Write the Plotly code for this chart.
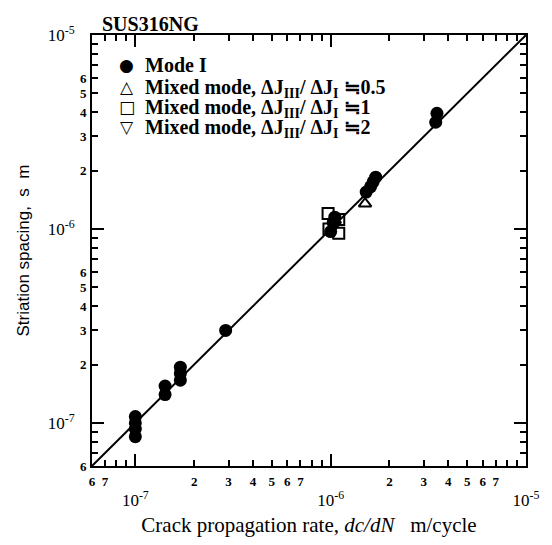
import numpy as np
import plotly.graph_objects as go

# ---------------- data ----------------
mode1_x = [1.0e-7, 1.0e-7, 1.0e-7, 1.0e-7, 1.42e-7, 1.42e-7, 1.7e-7, 1.7e-7, 1.7e-7,
           2.9e-7, 1.0e-6, 1.03e-6, 1.05e-6, 1.52e-6, 1.6e-6, 1.65e-6, 1.7e-6, 3.45e-6, 3.5e-6]
mode1_y = [0.85e-7, 0.93e-7, 1.0e-7, 1.08e-7, 1.4e-7, 1.55e-7, 1.66e-7, 1.8e-7, 1.94e-7,
           3.0e-7, 0.97e-6, 1.08e-6, 1.15e-6, 1.55e-6, 1.65e-6, 1.75e-6, 1.85e-6, 3.55e-6, 3.95e-6]
mix05_x = [1.5e-6]
mix05_y = [1.35e-6]
mix1_x = [0.97e-6, 1.1e-6, 1.1e-6, 0.98e-6]
mix1_y = [1.2e-6, 1.12e-6, 0.95e-6, 1.0e-6]
mix2_x = [1.05e-6]
mix2_y = [1.05e-6]
fit_x = [6e-8, 1e-5]
fit_y = [6e-8, 1e-5]

axis_min = 6e-8
axis_max = 1e-5
x_digit_vals = [6e-8, 7e-8, 8e-8, 9e-8] + [m * d for d in (1e-7, 1e-6) for m in range(2, 10)]
x_digit_text = ["6", "7", "", ""] + ["2", "3", "4", "5", "6", "7", "", ""] * 2
y_digit_vals = x_digit_vals
y_digit_text = ["6", "", "", ""] + ["2", "3", "4", "5", "6", "", "", ""] * 2
decade_vals = [1e-7, 1e-6, 1e-5]
decade_text = ["10<sup>-7</sup>", "10<sup>-6</sup>", "10<sup>-5</sup>"]

legend_names = ["Mode I",
                "Mixed mode, ΔJ<sub>III</sub>/ ΔJ<sub>I</sub> ≒0.5",
                "Mixed mode, ΔJ<sub>III</sub>/ ΔJ<sub>I</sub> ≒1",
                "Mixed mode, ΔJ<sub>III</sub>/ ΔJ<sub>I</sub> ≒2"]
legend_glyphs = ["●", "△", "□", "▽"]

SERIF = "Liberation Serif"
SANS = "Liberation Sans"

fig = go.Figure()
fig.add_trace(go.Scatter(x=fit_x, y=fit_y, mode="lines", line=dict(color="black", width=2),
                         showlegend=False, hoverinfo="skip"))
fig.add_trace(go.Scatter(x=mix2_x, y=mix2_y, mode="markers", name=legend_names[3],
                         marker=dict(symbol="triangle-down-open", size=11, color="black", line=dict(width=2)),
                         showlegend=False))
fig.add_trace(go.Scatter(x=mix1_x, y=mix1_y, mode="markers", name=legend_names[2],
                         marker=dict(symbol="square-open", size=11, color="black", line=dict(width=2)),
                         showlegend=False))
fig.add_trace(go.Scatter(x=mix05_x, y=mix05_y, mode="markers", name=legend_names[1],
                         marker=dict(symbol="triangle-up-open", size=11, color="black", line=dict(width=2)),
                         showlegend=False))
fig.add_trace(go.Scatter(x=mode1_x, y=mode1_y, mode="markers", name=legend_names[0],
                         marker=dict(symbol="circle", size=13, color="black"), showlegend=False))

# dummy trace for decade axes
fig.add_trace(go.Scatter(x=[None], y=[None], xaxis="x2", yaxis="y2", showlegend=False))

rng = [np.log10(axis_min), np.log10(axis_max)]
common = dict(type="log", range=rng, showgrid=False, zeroline=False, linecolor="black",
              linewidth=2, ticks="inside", tickcolor="black", tickwidth=2)
digit_font = dict(family=SERIF, size=13, color="black", weight="bold")

fig.update_layout(
    width=552, height=545,
    margin=dict(l=92, r=25, t=35, b=77),
    paper_bgcolor="white", plot_bgcolor="white",
    showlegend=False,
    xaxis=dict(**common, mirror="allticks", ticklen=6, tickvals=x_digit_vals, ticktext=x_digit_text,
               tickfont=digit_font, ticklabelstandoff=2,
               title=dict(text="Crack propagation rate, <i>dc/dN</i>   m/cycle",
                          font=dict(family=SERIF, size=21, color="black"), standoff=30)),
    yaxis=dict(**common, mirror="allticks", ticklen=6, tickvals=y_digit_vals, ticktext=y_digit_text,
               tickfont=digit_font, ticklabelstandoff=1,
               title=dict(text="Striation spacing,  s  m",
                          font=dict(family=SANS, size=17, color="black"), standoff=46)),
    xaxis2=dict(**common, overlaying="x", anchor="y", side="bottom", mirror="allticks", ticklen=12,
                tickvals=decade_vals, ticktext=decade_text, ticklabelstandoff=18,
                tickfont=dict(family=SERIF, size=17, color="black")),
    yaxis2=dict(**common, overlaying="y", anchor="x", side="left", mirror="allticks", ticklen=12,
                tickvals=decade_vals, ticktext=decade_text, ticklabelstandoff=12,
                tickfont=dict(family=SERIF, size=17, color="black")),
)

# legend built from text annotations (tight row spacing like the reference)
plot_l, plot_w, plot_t, plot_h = 92, 435, 35, 433
row_y_px = [65, 87, 107, 127]
for i, (glyph, name) in enumerate(zip(legend_glyphs, legend_names)):
    yp = 1 - (row_y_px[i] - plot_t) / plot_h
    fig.add_annotation(text=glyph, xref="paper", yref="paper", x=(127 - plot_l) / plot_w, y=yp,
                       xanchor="center", yanchor="middle", showarrow=False,
                       font=dict(family="DejaVu Sans", size=17, color="black"))
    fig.add_annotation(text=name, xref="paper", yref="paper", x=(143 - plot_l) / plot_w, y=yp,
                       xanchor="left", yanchor="middle", showarrow=False, yshift=0 if i == 0 else -2,
                       font=dict(family=SERIF, size=20, color="black", weight="bold"))

fig.add_annotation(text="SUS316NG", xref="paper", yref="paper", x=0.018, y=1.0, xanchor="left",
                   yanchor="bottom", showarrow=False, yshift=-2,
                   font=dict(family=SERIF, size=20, color="black", weight="bold"))

fig.write_html("out.html")
